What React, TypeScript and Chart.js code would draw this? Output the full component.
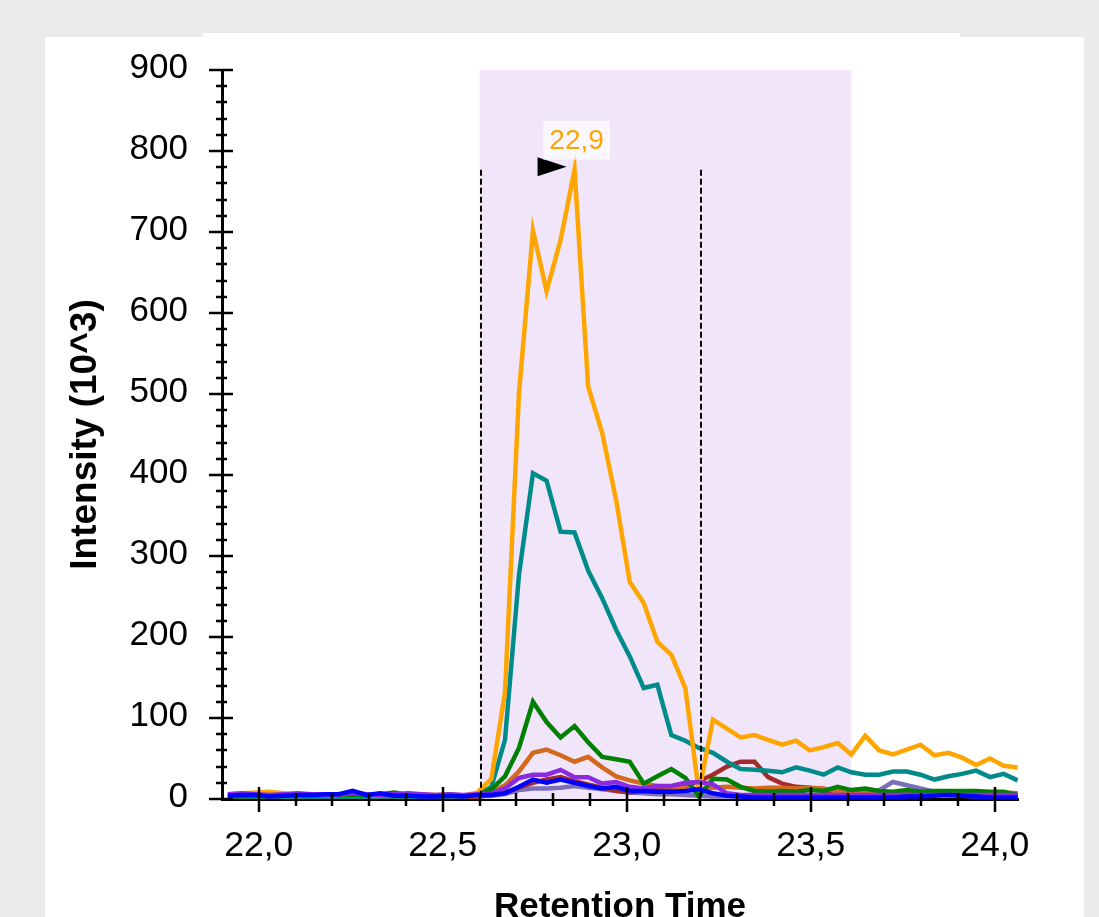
import React, { useEffect, useRef } from 'react';
import { Chart, registerables } from 'chart.js';

Chart.register(...registerables);

// Retention times (min)
const times = [
  21.916, 21.954, 21.992, 22.029, 22.067, 22.105, 22.142, 22.180, 22.218, 22.255,
  22.293, 22.330, 22.368, 22.406, 22.443, 22.481, 22.519, 22.556, 22.594, 22.632,
  22.669, 22.707, 22.745, 22.782, 22.820, 22.858, 22.895, 22.933, 22.971, 23.008,
  23.046, 23.083, 23.121, 23.159, 23.196, 23.234, 23.272, 23.309, 23.347, 23.384,
  23.422, 23.460, 23.497, 23.535, 23.573, 23.610, 23.648, 23.686, 23.723, 23.761,
  23.798, 23.836, 23.874, 23.911, 23.949, 23.987, 24.024, 24.062,
];

// Intensities (10^3)
const orangeSeries = [
  6, 7, 8, 9, 7, 5, 6, 5, 6, 5, 4, 5, 6, 5, 6, 5, 6, 4, 8, 25,
  132, 501, 702, 627, 690, 777, 509, 452, 369, 268, 242, 194, 178, 137, 8, 98, 87, 76, 79, 73,
  67, 72, 60, 64, 69, 55, 78, 60, 55, 61, 67, 54, 57, 51, 42, 50, 41, 39,
];
const tealSeries = [
  3, 3, 2, 3, 2, 3, 2, 3, 2, 3, 2, 3, 3, 2, 3, 2, 3, 3, 5, 15,
  73, 277, 402, 393, 330, 329, 282, 248, 209, 176, 137, 141, 79, 72, 63, 57, 46, 37, 36, 35,
  33, 39, 35, 30, 39, 33, 30, 30, 34, 34, 30, 24, 28, 31, 35, 27, 31, 23,
];
const greenSeries = [
  4, 3, 4, 3, 4, 5, 4, 5, 6, 5, 4, 6, 8, 5, 4, 4, 5, 4, 5, 12,
  28, 63, 120, 95, 76, 90, 70, 52, 49, 46, 19, 28, 37, 26, 3, 25, 24, 15, 10, 9,
  10, 9, 11, 10, 15, 11, 13, 10, 9, 11, 9, 10, 10, 10, 10, 9, 9, 5,
];
const chocolateSeries = [
  3, 4, 3, 3, 4, 3, 3, 4, 3, 3, 4, 3, 4, 3, 3, 4, 3, 3, 4, 8,
  17, 34, 57, 61, 54, 46, 52, 39, 28, 23, 19, 16, 15, 14, 12, 14, 15, 14, 13, 14,
  14, 13, 14, 13, 9, 8, 8, 7, 7, 7, 7, 6, 6, 6, 6, 7, 8, 7,
];
const brownSeries = [
  2, 2, 1, 2, 2, 1, 2, 2, 1, 2, 2, 2, 1, 2, 2, 1, 2, 2, 3, 5,
  8, 14, 20, 24, 27, 22, 18, 14, 10, 8, 10, 12, 14, 16, 22, 30, 40, 46, 46, 27,
  19, 15, 14, 10, 9, 8, 8, 7, 8, 6, 6, 7, 5, 5, 5, 6, 6, 5,
];
const violetSeries = [
  6, 7, 6, 5, 6, 7, 6, 5, 6, 8, 6, 5, 6, 7, 6, 5, 6, 5, 6, 7,
  13, 26, 30, 30, 36, 27, 27, 19, 21, 15, 13, 16, 16, 20, 21, 18, 7, 5, 5, 5,
  5, 5, 5, 5, 5, 5, 5, 5, 5, 5, 5, 5, 5, 5, 5, 5, 5, 5,
];
const slateSeries = [
  3, 3, 2, 3, 2, 3, 2, 3, 3, 2, 3, 2, 3, 2, 3, 2, 3, 2, 3, 4,
  6, 11, 13, 13, 14, 16, 14, 12, 10, 8, 7, 6, 6, 5, 4, 3, 3, 3, 3, 3,
  3, 3, 3, 3, 4, 3, 4, 11, 21, 17, 13, 9, 6, 4, 3, 3, 3, 3,
];
const blueSeries = [
  4, 5, 5, 3, 4, 5, 5, 6, 6, 10, 5, 7, 4, 4, 3, 3, 4, 3, 5, 5,
  7, 15, 24, 20, 24, 20, 16, 13, 15, 10, 10, 9, 9, 10, 12, 7, 4, 3, 2, 2,
  2, 2, 2, 2, 2, 2, 2, 2, 2, 3, 3, 4, 5, 4, 3, 2, 2, 2,
];

const xTickValues = [22.0, 22.5, 23.0, 23.5, 24.0];
const xTickLabels = ['22,0', '22,5', '23,0', '23,5', '24,0'];
const xMinorTicks = [22.1, 22.2, 22.3, 22.4, 22.6, 22.7, 22.8, 22.9, 23.1, 23.2, 23.3, 23.4, 23.6, 23.7, 23.8, 23.9];
const yTickValues = [0, 100, 200, 300, 400, 500, 600, 700, 800, 900];
const yMinorTicks = [
  20, 40, 60, 80, 120, 140, 160, 180, 220, 240, 260, 280, 320, 340, 360, 380,
  420, 440, 460, 480, 520, 540, 560, 580, 620, 640, 660, 680, 720, 740, 760, 780,
  820, 840, 860, 880,
];

const integrationBounds = [22.6, 23.2];
const shadedRange = [22.6, 23.61];
const peakTime = 22.858;
const peakValue = 777;
const peakLabel = '22,9';

const LINE_W = 4.5;
const FONT = "'Liberation Sans', Arial, Helvetica, sans-serif";

const annotationPlugin = {
  id: 'annotations',
  beforeDatasetsDraw(chart: any) {
    const { ctx, scales } = chart;
    const x = scales.x, y = scales.y;
    ctx.save();
    const x0 = x.getPixelForValue(shadedRange[0]);
    const x1 = x.getPixelForValue(shadedRange[1]);
    const yt = y.getPixelForValue(900);
    const yb = y.getPixelForValue(0);
    ctx.fillStyle = '#F1E5FA';
    ctx.fillRect(x0, yt, x1 - x0, yb - yt);
    ctx.restore();
  },
  afterDatasetsDraw(chart: any) {
    const { ctx, scales } = chart;
    const x = scales.x, y = scales.y;
    ctx.save();
    // integration boundaries
    ctx.strokeStyle = '#000';
    ctx.lineWidth = 2;
    ctx.setLineDash([6, 3]);
    const top = y.getPixelForValue(peakValue);
    const bottom = y.getPixelForValue(0);
    integrationBounds.forEach((t) => {
      const px = Math.round(x.getPixelForValue(t)) + 1;
      ctx.beginPath();
      ctx.moveTo(px, top);
      ctx.lineTo(px, bottom);
      ctx.stroke();
    });
    ctx.setLineDash([]);
    // peak marker
    const pxp = x.getPixelForValue(peakTime);
    const pyp = y.getPixelForValue(peakValue);
    ctx.fillStyle = '#000';
    ctx.beginPath();
    ctx.moveTo(pxp - 8, pyp - 3);
    ctx.lineTo(pxp - 37, pyp - 12.5);
    ctx.lineTo(pxp - 37, pyp + 6.5);
    ctx.closePath();
    ctx.fill();
    // label
    ctx.font = `28px ${FONT}`;
    const w = ctx.measureText(peakLabel).width;
    const cx = pxp + 2;
    const boxW = w + 12;
    ctx.fillStyle = 'rgba(255,255,255,0.7)';
    ctx.fillRect(cx - boxW / 2, pyp - 48.5, boxW, 38.5);
    ctx.fillStyle = '#FFA500';
    ctx.textAlign = 'center';
    ctx.textBaseline = 'alphabetic';
    ctx.fillText(peakLabel, cx, pyp - 21);
    ctx.restore();
  },
  afterDraw(chart: any) {
    const { ctx, scales, chartArea } = chart;
    const x = scales.x, y = scales.y;
    ctx.save();
    ctx.strokeStyle = '#000';
    ctx.lineWidth = 2.5;
    const ax = chartArea.left;
    const ay = chartArea.bottom;
    ctx.beginPath();
    yTickValues.forEach((v) => {
      const py = Math.round(y.getPixelForValue(v));
      ctx.moveTo(ax - 13, py);
      ctx.lineTo(ax + 11, py);
    });
    yMinorTicks.forEach((v) => {
      const py = Math.round(y.getPixelForValue(v));
      ctx.moveTo(ax - 6, py);
      ctx.lineTo(ax + 5, py);
    });
    xTickValues.forEach((v) => {
      const px = Math.round(x.getPixelForValue(v));
      ctx.moveTo(px, ay - 12);
      ctx.lineTo(px, ay + 13);
    });
    xMinorTicks.forEach((v) => {
      const px = Math.round(x.getPixelForValue(v));
      ctx.moveTo(px, ay - 6);
      ctx.lineTo(px, ay + 7);
    });
    ctx.stroke();
    ctx.restore();
  },
};

const seriesDefs = [
  { label: 'Blue', data: blueSeries, color: '#0000FF' },
  { label: 'BlueViolet', data: violetSeries, color: '#8A2BE2' },
  { label: 'Green', data: greenSeries, color: '#008000' },
  { label: 'Orange', data: orangeSeries, color: '#FFA500' },
  { label: 'Teal', data: tealSeries, color: '#008B8B' },
  { label: 'Chocolate', data: chocolateSeries, color: '#D2691E' },
  { label: 'Brown', data: brownSeries, color: '#A52A2A' },
  { label: 'Slate', data: slateSeries, color: '#7B70B8' },
];

export default function App() {
  const ref = useRef<HTMLCanvasElement | null>(null);

  useEffect(() => {
    if (!ref.current) return;
    const chart = new Chart(ref.current, {
      type: 'line',
      data: {
        datasets: seriesDefs.map((s) => ({
          label: s.label,
          data: s.data.map((v, i) => ({ x: times[i], y: v })),
          borderColor: s.color,
          backgroundColor: s.color,
          borderWidth: LINE_W,
          pointRadius: 0,
          tension: 0,
          fill: false,
        })),
      },
      options: {
        responsive: false,
        animation: false,
        devicePixelRatio: 1,
        events: [],
        elements: { line: { borderWidth: LINE_W, borderJoinStyle: 'miter' } },
        layout: { padding: { left: 0, right: 81, top: 70, bottom: 0 } },
        plugins: { legend: { display: false }, tooltip: { enabled: false } },
        scales: {
          x: {
            type: 'linear',
            min: 21.9,
            max: 24.063,
            afterFit: (scale: any) => { scale.height = 118; },
            afterBuildTicks: (scale: any) => { scale.ticks = xTickValues.map((v) => ({ value: v })); },
            grid: { display: false, drawTicks: false, drawOnChartArea: false },
            border: { display: true, color: '#000', width: 3 },
            ticks: {
              color: '#000',
              padding: 26,
              maxRotation: 0,
              autoSkip: false,
              font: { family: FONT, size: 35.5 },
              callback: (v: any) => {
                const i = xTickValues.findIndex((t) => Math.abs(t - Number(v)) < 1e-6);
                return i >= 0 ? xTickLabels[i] : '';
              },
            },
            title: {
              display: true,
              text: 'Retention Time',
              color: '#000',
              font: { family: FONT, size: 35, weight: 'bold' },
              padding: { top: 0, bottom: -11 },
            },
          },
          y: {
            type: 'linear',
            min: 0,
            max: 900,
            afterFit: (scale: any) => { scale.width = 222; },
            afterBuildTicks: (scale: any) => { scale.ticks = yTickValues.map((v) => ({ value: v })); },
            grid: { display: false, drawTicks: false, drawOnChartArea: false },
            border: { display: true, color: '#000', width: 3 },
            ticks: {
              color: '#000',
              padding: 34,
              labelOffset: -2,
              font: { family: FONT, size: 35 },
              callback: (v: any) => String(v),
            },
            title: {
              display: true,
              text: 'Intensity (10^3)',
              color: '#000',
              font: { family: FONT, size: 37, weight: 'bold' },
              padding: { top: 64, bottom: 0 },
            },
          },
        },
      } as any,
      plugins: [annotationPlugin],
    });
    return () => chart.destroy();
  }, []);

  return (
    <div style={{ position: 'fixed', left: 0, top: 0, width: 1099, height: 917, background: '#EBEBEB', overflow: 'hidden' }}>
      <div style={{ position: 'absolute', left: 45, top: 37, width: 1039, height: 900, background: '#FFFFFF' }} />
      <div style={{ position: 'absolute', left: 203, top: 33, width: 757, height: 5, background: '#FFFFFF' }} />
      <canvas ref={ref} width={1099} height={917} style={{ position: 'absolute', left: 0, top: 0, width: 1099, height: 917 }} />
    </div>
  );
}
